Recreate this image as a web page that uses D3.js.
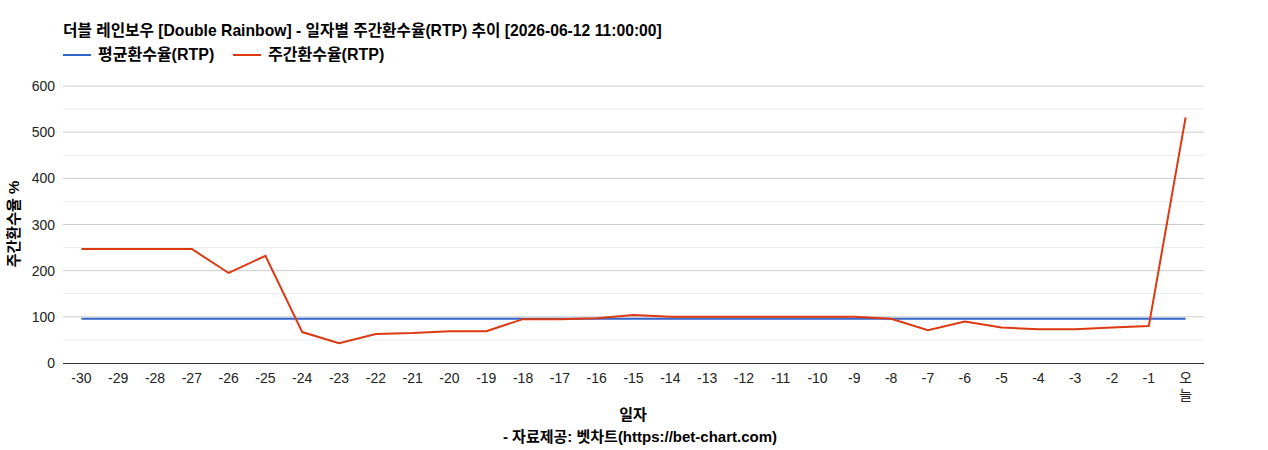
<!DOCTYPE html><html><head><meta charset="utf-8"><script src="https://cdn.jsdelivr.net/npm/d3@7"></script>
<style>body{margin:0;background:#fff;font-family:Arial,"Liberation Sans","Noto Sans CJK KR",sans-serif}</style></head><body><svg id="c" width="1268" height="450"></svg><script>
const categories=["-30","-29","-28","-27","-26","-25","-24","-23","-22","-21","-20","-19","-18","-17","-16","-15","-14","-13","-12","-11","-10","-9","-8","-7","-6","-5","-4","-3","-2","-1","오늘"];
const rtpValues=[247,247,247,247,195,232,67,43,63,65,69,69,95,95,97,104,100,100,100,100,100,100,96,71,90,77,73,73,77,80,532];
const avgValues=categories.map(()=>96);
const yTicks=[0,100,200,300,400,500,600];
const svg=d3.select("#c");
const x=d3.scalePoint().domain(categories).range([63,1204]).padding(0.5);
const y=d3.scaleLinear().domain([0,600]).range([363,86]);
const f="Arial,'Liberation Sans','Noto Sans CJK KR',sans-serif";
d3.range(50,600,100).forEach(v=>svg.append("line").attr("x1",63).attr("x2",1204).attr("y1",y(v)).attr("y2",y(v)).attr("stroke","#ebebeb"));
yTicks.forEach(v=>{if(v>0)svg.append("line").attr("x1",63).attr("x2",1204).attr("y1",y(v)).attr("y2",y(v)).attr("stroke","#ccc");
svg.append("text").attr("x",55).attr("y",y(v)+5).attr("text-anchor","end").attr("font-size",14).attr("font-family",f).attr("fill","#222").text(v);});
svg.append("line").attr("x1",63).attr("x2",1204).attr("y1",363.5).attr("y2",363.5).attr("stroke","#333");
categories.forEach(c=>{const t=svg.append("text").attr("text-anchor","middle").attr("font-size",14).attr("font-family",f).attr("fill","#222");
if(c==="오늘"){t.append("tspan").attr("x",x(c)).attr("y",383).text("오");t.append("tspan").attr("x",x(c)).attr("y",400).text("늘");}
else t.attr("x",x(c)).attr("y",383).text(c);});
const line=d3.line().x((d,i)=>x(categories[i])).y(d=>y(d));
svg.append("path").datum(avgValues).attr("d",line).attr("fill","none").attr("stroke","#3366cc").attr("stroke-width",2);
svg.append("path").datum(rtpValues).attr("d",line).attr("fill","none").attr("stroke","#dc3912").attr("stroke-width",2);
svg.append("text").attr("x",63).attr("y",36).attr("font-size",15.7).attr("font-weight","bold").attr("font-family",f).text("더블 레인보우 [Double Rainbow] - 일자별 주간환수율(RTP) 추이 [2026-06-12 11:00:00]");
const leg=[["평균환수율(RTP)","#3366cc",63],["주간환수율(RTP)","#dc3912",233]];
leg.forEach(([t,c,lx])=>{svg.append("line").attr("x1",lx).attr("x2",lx+28).attr("y1",55).attr("y2",55).attr("stroke",c).attr("stroke-width",2);
svg.append("text").attr("x",lx+35).attr("y",60).attr("font-size",16).attr("font-weight","bold").attr("font-family",f).text(t);});
svg.append("text").attr("x",633).attr("y",420).attr("text-anchor","middle").attr("font-size",15).attr("font-weight","bold").attr("font-family",f).text("일자");
svg.append("text").attr("x",640).attr("y",442).attr("text-anchor","middle").attr("font-size",15).attr("font-weight","bold").attr("font-family",f).text("- 자료제공: 벳차트(https://bet-chart.com)");
svg.append("text").attr("transform","translate(19,224) rotate(-90)").attr("text-anchor","middle").attr("font-size",15).attr("font-weight","bold").attr("font-family",f).text("주간환수율 %");
</script></body></html>
